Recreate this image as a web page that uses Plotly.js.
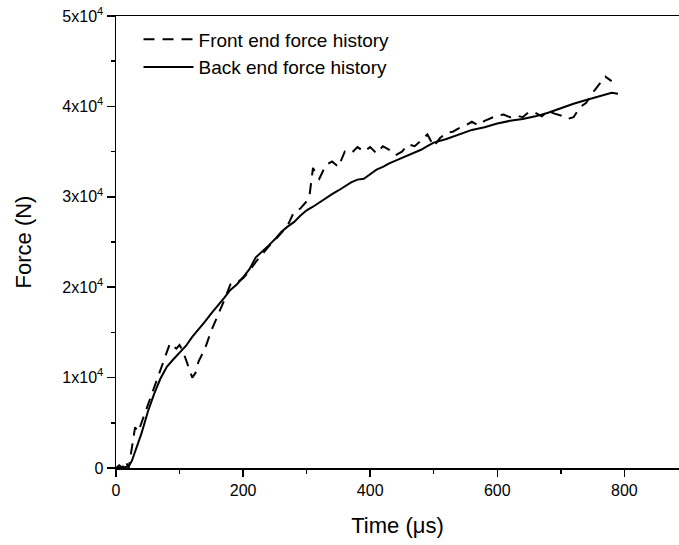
<!DOCTYPE html>
<html><head><meta charset="utf-8">
<script src="https://cdn.plot.ly/plotly-3.0.1.min.js"></script>
<style>html,body{margin:0;padding:0;background:#fff}#chart{width:679px;height:545px}</style>
</head><body><div id="chart"></div>
<script>
const backTime = [0,10,20,25,30,40,50,60,70,80,90,100,110,120,130,140,150,160,170,180,190,200,210,220,230,240,250,260,270,280,290,300,310,320,330,340,350,360,370,380,390,400,410,420,430,440,450,460,470,480,490,500,520,540,560,580,600,620,640,660,680,700,720,740,760,770,780,790];
const backForce = [0,0,200,800,1800,3800,6200,8200,9900,11200,12000,12700,13500,14500,15300,16200,17100,17900,18800,19700,20300,21100,22000,23300,23900,24600,25300,26100,26700,27200,27900,28500,28900,29400,29900,30300,30700,31200,31600,31900,32000,32500,33000,33300,33700,34000,34300,34600,34900,35200,35600,36000,36400,36900,37400,37700,38100,38400,38600,38900,39300,39800,40300,40700,41100,41300,41500,41400];
const frontTime = [0,5,10,15,20,25,30,35,40,50,60,70,80,85,90,95,100,105,110,115,120,125,130,135,140,150,160,170,180,190,200,210,220,230,240,250,260,270,280,290,300,305,310,315,320,330,340,350,360,370,380,390,400,410,420,430,440,450,460,470,480,490,500,510,520,530,540,550,560,570,580,590,600,610,620,630,640,650,660,670,680,690,700,710,720,730,740,750,760,770,780];
const frontForce = [0,300,0,800,0,2500,4500,4000,5000,7000,8800,10800,13000,13800,13500,13200,13600,13000,12000,11000,10000,10500,11800,12500,13200,15200,16800,18500,20300,20500,21000,21800,22800,23700,24500,25200,26000,26800,28300,28700,29500,30400,33200,32500,32000,33500,33900,33300,35000,34800,35500,35000,35500,34800,35600,35200,34600,35000,35800,35600,36200,36900,35600,36500,37100,37200,37600,37900,38300,37900,38400,38700,39000,39100,38800,39000,38800,39400,39300,38900,39500,39200,39000,38600,38800,39900,40400,41500,42400,43300,42800];
const yTickVals = [0,10000,20000,30000,40000,50000];
const yTickText = ['0','1x10<sup>4</sup>','2x10<sup>4</sup>','3x10<sup>4</sup>','4x10<sup>4</sup>','5x10<sup>4</sup>'];
const seriesNames = ['Front end force history','Back end force history'];
const xTitle = 'Time (\u03BCs)';
const yTitle = 'Force (N)';

const font = {family:'"Liberation Sans", Arial, sans-serif', color:'#000'};
const traces = [
  {x:frontTime, y:frontForce, name:seriesNames[0], mode:'lines', line:{color:'#000', width:2, dash:'11px,8px'}},
  {x:backTime, y:backForce, name:seriesNames[1], mode:'lines', line:{color:'#000', width:2}}
];
const layout = {
  width:679, height:545,
  margin:{l:116, r:0, t:16, b:77},
  paper_bgcolor:'#fff', plot_bgcolor:'#fff',
  font:Object.assign({size:16}, font),
  showlegend:true,
  legend:{x:0.04, y:0.99, xanchor:'left', yanchor:'top', bgcolor:'rgba(0,0,0,0)', font:Object.assign({size:19}, font), tracegroupgap:0, itemwidth:50},
  xaxis:{range:[0,886], showgrid:false, zeroline:false, showline:true, linecolor:'#000', linewidth:1.5, mirror:true,
    ticks:'outside', ticklen:7, tickwidth:1.5, tickcolor:'#000', dtick:200, tick0:0,
    minor:{dtick:100, ticks:'outside', ticklen:4, tickwidth:1.5, tickcolor:'#000'},
    tickfont:Object.assign({size:16}, font),
    title:{text:xTitle, font:Object.assign({size:22}, font), standoff:20}},
  yaxis:{range:[0,50000], showgrid:false, zeroline:false, showline:true, linecolor:'#000', linewidth:1.5, mirror:false,
    ticks:'outside', ticklen:8, tickwidth:1.5, tickcolor:'#000', tickmode:'array', tickvals:yTickVals, ticktext:yTickText,
    minor:{tickmode:'linear', tick0:0, dtick:5000, ticks:'outside', ticklen:4, tickwidth:1.5, tickcolor:'#000'},
    tickfont:Object.assign({size:16}, font),
    title:{text:yTitle, font:Object.assign({size:22}, font), standoff:24}}
};
Plotly.newPlot('chart', traces, layout, {staticPlot:true, displayModeBar:false});
</script></body></html>
